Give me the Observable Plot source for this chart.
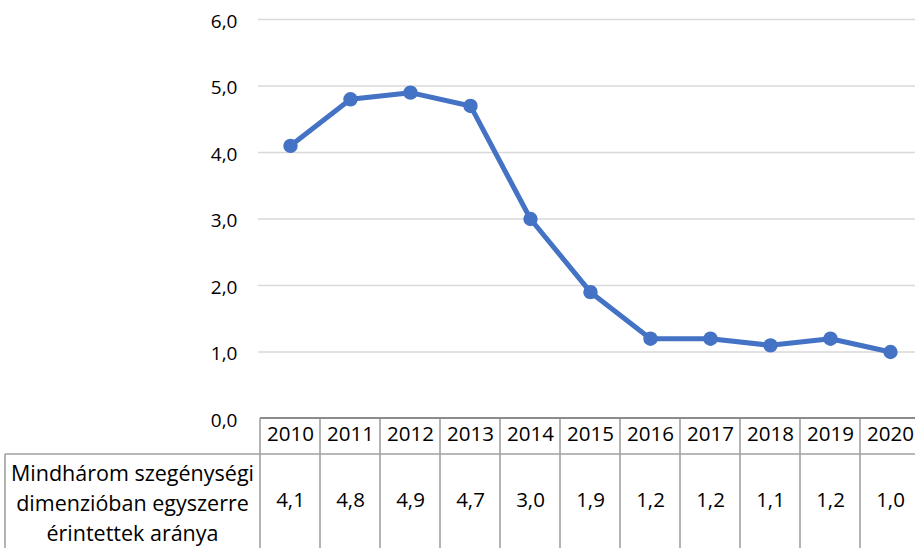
<!DOCTYPE html>
<html><head><meta charset="utf-8">
<script src="https://cdn.jsdelivr.net/npm/d3@7"></script>
<script src="https://cdn.jsdelivr.net/npm/@observablehq/plot@0.6"></script>
<style>body{margin:0;background:#fff}</style>
</head><body><div id="chart"></div>
<script>
const years = ["2010","2011","2012","2013","2014","2015","2016","2017","2018","2019","2020"];
const values = [4.1, 4.8, 4.9, 4.7, 3.0, 1.9, 1.2, 1.2, 1.1, 1.2, 1.0];
const seriesLabel = ["Mindhárom szegénységi", "dimenzióban egyszerre", "érintettek aránya"];
const yTicks = [0, 1, 2, 3, 4, 5, 6];

const data = years.map((year, i) => ({year, value: values[i]}));
const fmt = d => d.toFixed(1).replace(".", ",");
const font = "'Open Sans', sans-serif";
const blue = "#4472C4";
const cellStroke = "#a0a0a0";

const chart = Plot.plot({
  width: 915, height: 548,
  marginLeft: 258, marginRight: 0, marginTop: 19, marginBottom: 130,
  style: {fontFamily: font, fontSize: "19px", color: "#000", background: "#fff", overflow: "visible"},
  x: {type: "band", domain: years, range: [258, 921], padding: 0, axis: null, label: null},
  y: {domain: [0, 6], axis: null, label: null},
  marks: [
    Plot.gridY(yTicks.filter(d => d > 0), {stroke: "#d9d9d9", strokeOpacity: 1, strokeWidth: 1.4}),
    Plot.axisY(yTicks, {tickSize: 0, tickPadding: 21, tickFormat: fmt, fontSize: 19, dy: 2, fill: "#000", label: null}),
    Plot.text(data, {x: "year", frameAnchor: "bottom", dy: 22, text: "year", fontSize: 20.5, fill: "#000"}),
    Plot.text(data, {x: "year", frameAnchor: "bottom", dy: 88, text: d => fmt(d.value), fontSize: 20.5, fill: "#000"}),
    Plot.line(data, {x: "year", y: "value", stroke: blue, strokeWidth: 5}),
    Plot.dot(data, {x: "year", y: "value", fill: blue, r: 7.2})
  ]
});

// data table frame, positioned from Plot's own scales
const xs = chart.scale("x"), ys = chart.scale("y");
const bw = xs.bandwidth;
const x0 = xs.apply(years[0]);
const base = ys.apply(0);
const rowTop = base + 36;
const bottom = 560;
const svg = d3.select(chart);
const g = svg.append("g").attr("fill", "none").attr("stroke", cellStroke).attr("stroke-width", 1.6);
// vertical lines at column edges
years.forEach(y => {
  const xl = xs.apply(y);
  g.append("line").attr("x1", xl).attr("x2", xl).attr("y1", base).attr("y2", bottom);
});
const xr = xs.apply(years[years.length - 1]) + bw;
g.append("line").attr("x1", xr).attr("x2", xr).attr("y1", base).attr("y2", bottom);
// row separator and left header cell
g.append("line").attr("x1", 5).attr("x2", xr).attr("y1", rowTop).attr("y2", rowTop);
g.append("line").attr("x1", 5).attr("x2", 5).attr("y1", rowTop).attr("y2", bottom);
// top border (axis baseline)
svg.append("line").attr("x1", x0).attr("x2", xr).attr("y1", base).attr("y2", base)
  .attr("stroke", "#8c8c8c").attr("stroke-width", 2.2);

const lbl = svg.append("text")
  .attr("text-anchor", "middle")
  .attr("font-family", font).attr("font-size", 21.5).attr("fill", "#000");
seriesLabel.forEach((t, i) => {
  lbl.append("tspan").attr("x", (5 + x0) / 2).attr("y", rowTop + 19 + i * 30)
    .attr("dy", "0.35em").text(t);
});
document.getElementById("chart").appendChild(chart);
</script>
</body></html>
